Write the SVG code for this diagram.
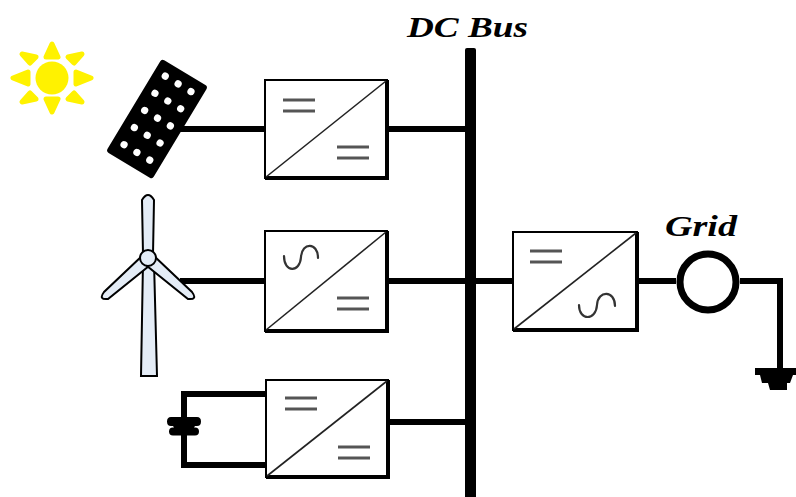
<svg xmlns="http://www.w3.org/2000/svg" width="796" height="497" viewBox="0 0 796 497">
  <style>
    .wire { stroke: #000; stroke-width: 6; fill: none; }
    .box { fill: #fff; stroke: #000; stroke-width: 2; }
    .shadow { stroke: #000; stroke-width: 4; fill: none; }
    .diag { stroke: #222; stroke-width: 1.6; }
    .sym { stroke: #555; stroke-width: 3; fill: none; }
    .sine { stroke: #333; stroke-width: 2.2; fill: none; stroke-linecap: round; }
    .label { font-family: "Liberation Serif", "DejaVu Serif", serif; font-weight: bold; font-style: italic; fill: #000; }
    .blade { fill: #e4ecf6; stroke: #000; stroke-width: 2; }
    .ray { fill: #fff200; stroke: #fff200; stroke-width: 5; stroke-linejoin: round; }
  </style>
  <defs>
    <g id="eq">
      <line x1="0" y1="0" x2="32" y2="0" class="sym"/>
      <line x1="0" y1="11" x2="32" y2="11" class="sym"/>
    </g>
  </defs>

  <rect width="796" height="497" fill="#fff"/>

  <!-- connectors -->
  <g id="connectors">
    <rect x="465" y="48" width="11" height="452" rx="2" fill="#000"/>
    <line x1="178" y1="129" x2="265" y2="129" class="wire"/>
    <line x1="387" y1="129" x2="466" y2="129" class="wire"/>
    <line x1="180" y1="281" x2="265" y2="281" class="wire"/>
    <line x1="387" y1="281" x2="466" y2="281" class="wire"/>
    <line x1="387" y1="422" x2="466" y2="422" class="wire"/>
    <line x1="476" y1="281" x2="513" y2="281" class="wire"/>
    <line x1="637" y1="281" x2="676" y2="281" class="wire"/>
    <polyline points="740,281 780,281 780,370" class="wire"/>
    <polyline points="266,394 184,394 184,465 266,465" class="wire" stroke-width="7"/>
  </g>

  <!-- sun -->
  <g id="sun">
    <circle cx="52" cy="78" r="16.5" fill="#fff200"/>
    <g class="ray">
      <polygon points="46,57 52,44 58,57"/>
      <polygon points="46,99 52,112 58,99"/>
      <polygon points="28,72 13,78 28,84"/>
      <polygon points="76,72 91,78 76,84"/>
      <polygon points="30,63 22,54 36,57"/>
      <polygon points="68,57 82,54 74,63"/>
      <polygon points="30,93 22,102 36,99"/>
      <polygon points="68,99 82,102 74,93"/>
    </g>
  </g>

  <!-- solar panel -->
  <g id="solar-panel" transform="rotate(31 157 119)">
    <rect x="130" y="65" width="54" height="108" rx="3" fill="#000"/>
    <g fill="#fff">
      <circle cx="142" cy="78" r="3.6"/><circle cx="157" cy="78" r="3.6"/><circle cx="172" cy="78" r="3.6"/>
      <circle cx="142" cy="98" r="3.6"/><circle cx="157" cy="98" r="3.6"/><circle cx="172" cy="98" r="3.6"/>
      <circle cx="142" cy="118" r="3.6"/><circle cx="157" cy="118" r="3.6"/><circle cx="172" cy="118" r="3.6"/>
      <circle cx="142" cy="138" r="3.6"/><circle cx="157" cy="138" r="3.6"/><circle cx="172" cy="138" r="3.6"/>
      <circle cx="142" cy="158" r="3.6"/><circle cx="157" cy="158" r="3.6"/><circle cx="172" cy="158" r="3.6"/>
    </g>
  </g>

  <!-- wind turbine -->
  <g id="wind-turbine">
    <path d="M143 262 L141 376 L157 376 L154 262 Z" class="blade"/>
    <path d="M143 254 L142 200 Q148 190 154 200 L153 254 Z" class="blade"/>
    <path d="M143 255 L104 292 Q98 300 108 299 L149 266 Z" class="blade"/>
    <path d="M153 255 L192 292 Q198 300 188 299 L147 266 Z" class="blade"/>
    <circle cx="148" cy="258" r="8" class="blade"/>
  </g>

  <!-- battery -->
  <g id="battery" fill="#000">
    <path d="M171 417 h26 q4 0 4 4.5 q0 4.5 -4 4.5 h-2 l-1 1.5 h1 q4 0 4 4 q0 4 -4 4 h-22 q-4 0 -4 -4 q0 -4 4 -4 h1 l-1 -1.5 h-2 q-4 0 -4 -4.5 q0 -4.5 4 -4.5 z"/>
  </g>

  <!-- DC/DC converter for PV -->
  <g id="conv-pv">
    <rect x="265" y="80" width="122" height="98" class="box"/>
    <polyline points="265,178 387,178 387,80" class="shadow"/>
    <line x1="266" y1="177" x2="386" y2="81" class="diag"/>
    <use href="#eq" x="283" y="100"/>
    <use href="#eq" x="337" y="147"/>
  </g>

  <!-- AC/DC converter for wind -->
  <g id="conv-wind">
    <rect x="265" y="231" width="122" height="100" class="box"/>
    <polyline points="265,331 387,331 387,231" class="shadow"/>
    <line x1="266" y1="330" x2="386" y2="232" class="diag"/>
    <path d="M284 256 C 284 273, 300 273, 301 257 C 302 242, 318 242, 318 258" class="sine"/>
    <use href="#eq" x="337" y="298"/>
  </g>

  <!-- DC/DC converter for battery -->
  <g id="conv-battery">
    <rect x="266" y="380" width="122" height="97" class="box"/>
    <polyline points="266,477 388,477 388,380" class="shadow"/>
    <line x1="267" y1="476" x2="387" y2="381" class="diag"/>
    <use href="#eq" x="285" y="398"/>
    <use href="#eq" x="338" y="447"/>
  </g>

  <!-- DC/AC inverter to grid -->
  <g id="conv-grid">
    <rect x="513" y="232" width="124" height="98" class="box"/>
    <polyline points="513,330 637,330 637,232" class="shadow"/>
    <line x1="514" y1="329" x2="636" y2="233" class="diag"/>
    <use href="#eq" x="530" y="251"/>
    <path d="M579 305 C 579 321, 596 321, 597 305 C 598 290, 615 290, 615 306" class="sine"/>
  </g>

  <!-- grid -->
  <g id="grid">
    <circle cx="708" cy="282" r="28" fill="#fff" stroke="#000" stroke-width="7"/>
    <text x="665" y="236" class="label" font-size="30" textLength="72" lengthAdjust="spacingAndGlyphs">Grid</text>
  </g>

  <!-- ground -->
  <g id="ground" fill="#000">
    <path d="M755 368 L797 368 L797 375 L793 375 L790 383 L787 383 L787 390 L770 390 L768 383 L762 383 L760 375 L755 375 Z"/>
  </g>

  <!-- bus label -->
  <g id="dc-bus-label">
    <text x="407" y="37" class="label" font-size="30" textLength="121" lengthAdjust="spacingAndGlyphs">DC  Bus</text>
  </g>
</svg>
